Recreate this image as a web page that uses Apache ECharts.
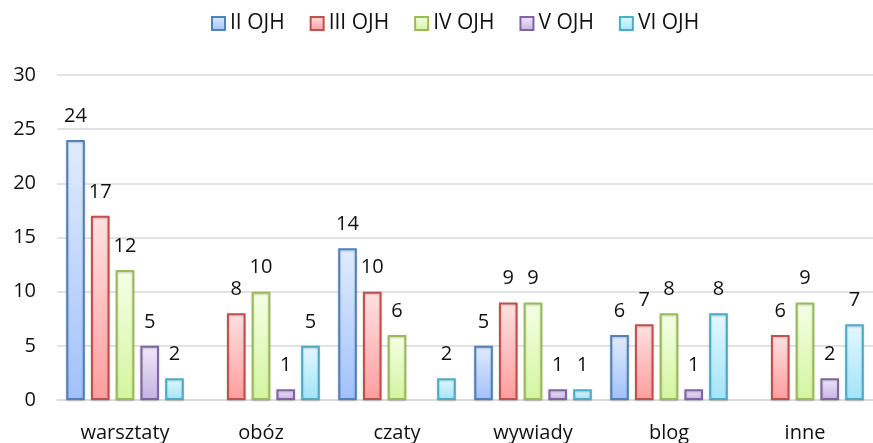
<!DOCTYPE html>
<html>
<head>
<meta charset="utf-8">
<script src="https://cdn.jsdelivr.net/npm/echarts@6/dist/echarts.min.js"></script>
<style>
  html, body { margin: 0; padding: 0; background: #fff; }
  #container { width: 873px; height: 443px; }
</style>
</head>
<body>
<div id="container"></div>
<script>
var categories = ['warsztaty', 'obóz', 'czaty', 'wywiady', 'blog', 'inne'];
var seriesNames = ['II OJH', 'III OJH', 'IV OJH', 'V OJH', 'VI OJH'];
var ojh2 = [24, 0, 14, 5, 6, 0];
var ojh3 = [17, 8, 10, 9, 7, 6];
var ojh4 = [12, 10, 6, 9, 8, 9];
var ojh5 = [5, 1, 0, 1, 1, 2];
var ojh6 = [2, 5, 2, 1, 8, 7];
var yTicks = [0, 5, 10, 15, 20, 25, 30];

var fontName = 'Open Sans';

// [border, top, bottom]
var palette = [
    ['#4f81bd', '#e1ebfd', '#a2c1fa'],
    ['#c0504d', '#ffe1e1', '#ff9d9d'],
    ['#9bbb59', '#f5ffe6', '#d4f59e'],
    ['#8064a2', '#f0eaf8', '#c5b2e3'],
    ['#4bacc6', '#e4f8fe', '#a2e4f8']
];

var makeSeries = function(name, data, c) {
    return {
        name: name,
        type: 'bar',
        // zero values: no bar at all (no flat border line)
        data: data.map(function(v) {
            return v === 0 ? { value: 0, itemStyle: { borderWidth: 0, opacity: 0 } } : v;
        }),
        barWidth: 18.6,
        barGap: '33%',
        itemStyle: {
            color: new echarts.graphic.LinearGradient(0, 0, 0, 1, [
                { offset: 0, color: c[1] },
                { offset: 1, color: c[2] }
            ]),
            borderColor: c[0],
            borderWidth: 2,
            shadowColor: 'rgba(0,0,0,0.18)',
            shadowBlur: 2,
            shadowOffsetY: 1
        },
        label: {
            show: true,
            position: 'top',
            distance: 14,
            fontFamily: fontName,
            fontSize: 20,
            color: '#111',
            formatter: function(p) {
                return p.value === 0 ? '' : p.value;
            }
        }
    };
};

var dataSets = [ojh2, ojh3, ojh4, ojh5, ojh6];
var series = dataSets.map(function(d, i) {
    return makeSeries(seriesNames[i], d, palette[i]);
});

var chart = echarts.init(document.getElementById('container'));
chart.setOption({
    backgroundColor: '#fff',
    animation: false,
    legend: {
        data: seriesNames,
        icon: 'rect',
        top: 8,
        left: 206,
        itemWidth: 13,
        itemHeight: 13,
        itemGap: 25,
        textStyle: {
            fontFamily: fontName,
            fontSize: 21,
            color: '#111'
        }
    },
    grid: {
        left: 57,
        right: -4,
        top: 75,
        bottom: 41,
        containLabel: false
    },
    xAxis: {
        type: 'category',
        data: categories,
        axisLine: { lineStyle: { color: '#d9d9d9', width: 1.5 } },
        axisTick: { show: false },
        axisLabel: {
            margin: 23,
            fontFamily: fontName,
            fontSize: 20,
            color: '#111'
        }
    },
    yAxis: {
        type: 'value',
        min: yTicks[0],
        max: yTicks[yTicks.length - 1],
        interval: 5,
        axisLine: { show: false },
        axisTick: { show: false },
        splitLine: { lineStyle: { color: '#d9d9d9', width: 1.5 } },
        axisLabel: {
            margin: 21,
            fontFamily: fontName,
            fontSize: 20,
            color: '#111'
        }
    },
    series: series
});
</script>
</body>
</html>
